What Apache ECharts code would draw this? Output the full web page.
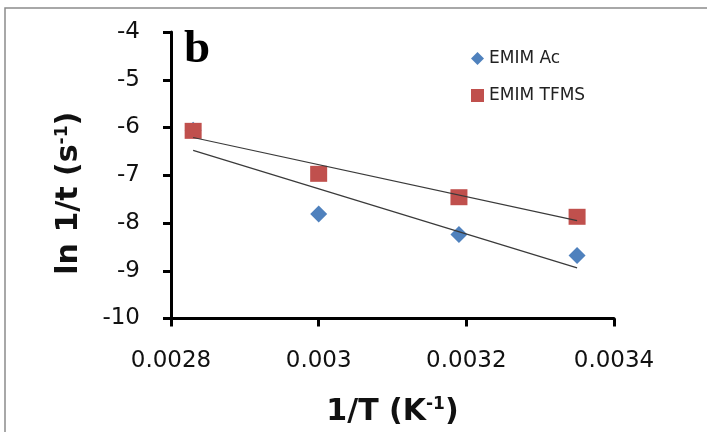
<!DOCTYPE html>
<html><head><meta charset="utf-8">
<script src="https://cdn.jsdelivr.net/npm/echarts@6/dist/echarts.min.js"></script>
<style>html,body{margin:0;padding:0;background:#fff}#c{width:707px;height:432px}</style>
</head><body><div id="c"></div>
<script>
const xTicks = ['0.0028', '0.003', '0.0032', '0.0034'];
const yTicks = ['-4', '-5', '-6', '-7', '-8', '-9', '-10'];
const acX = [0.00283, 0.0030, 0.00319, 0.00335];
const acY = [-6.06, -7.81, -8.24, -8.68];
const tfX = [0.00283, 0.0030, 0.00319, 0.00335];
const tfY = [-6.07, -6.97, -7.46, -7.87];
const acTrendX = [0.00283, 0.00335];
const acTrendY = [-6.48, -8.94];
const tfTrendX = [0.00283, 0.00335];
const tfTrendY = [-6.21, -7.95];
const seriesNames = ['EMIM Ac', 'EMIM TFMS'];

const zip = (a, b) => a.map((v, i) => [v, b[i]]);
const chart = echarts.init(document.getElementById('c'), null, {renderer: 'canvas'});
const font = '"DejaVu Sans", sans-serif';
const titleRich = {
  a: {fontFamily: font, fontWeight: 'bold', fontSize: 30, color: '#111'},
  s: {fontFamily: font, fontWeight: 'bold', fontSize: 17, color: '#111', verticalAlign: 'top', padding: [0, 0, 14, 0]}
};
chart.setOption({
  animation: false,
  backgroundColor: '#fff',
  graphic: [
    {type: 'rect', shape: {x: 5, y: 8, width: 720, height: 440}, style: {fill: 'none', stroke: '#8c8c8c', lineWidth: 1.5}, silent: true},
    {type: 'text', left: 184, top: 26, style: {text: 'b', font: 'bold 47px "Liberation Serif", serif', fill: '#000'}}
  ],
  grid: {left: 171, top: 32, right: 93, bottom: 113},
  legend: {
    data: [{name: seriesNames[0], icon: 'diamond'}, {name: seriesNames[1], icon: 'rect'}],
    orient: 'vertical', left: 466, top: 45, itemGap: 20, itemWidth: 13, itemHeight: 13,
    textStyle: {fontFamily: font, fontSize: 17, color: '#222'}
  },
  xAxis: {
    type: 'value', min: 0.0028, max: 0.0034, interval: 0.0002,
    splitLine: {show: false},
    axisLine: {onZero: false, lineStyle: {color: '#000', width: 3}},
    axisTick: {show: true, length: 8, lineStyle: {color: '#000', width: 3}},
    axisLabel: {margin: 31, fontFamily: font, fontSize: 23, color: '#111',
      formatter: v => xTicks[Math.round((v - 0.0028) / 0.0002)] || ''},
    name: '{a|1/T (K}{s|-1}{a|)}', nameLocation: 'middle', nameGap: 78,
    nameTextStyle: {rich: titleRich}
  },
  yAxis: {
    type: 'value', min: -10, max: -4, interval: 1,
    splitLine: {show: false},
    axisLine: {onZero: false, lineStyle: {color: '#000', width: 3}},
    axisTick: {show: true, length: 8, lineStyle: {color: '#000', width: 3}},
    axisLabel: {margin: 31, fontFamily: font, fontSize: 23, color: '#111',
      formatter: v => yTicks[Math.round(-4 - v)] || ''},
    name: '{a|ln 1/t (s}{s|-1}{a|)}', nameLocation: 'middle', nameGap: 86,
    nameTextStyle: {rich: titleRich, padding: [0, 36, 0, 0]}
  },
  series: [
    {name: seriesNames[0], type: 'scatter', symbol: 'diamond', symbolSize: 17, z: 3,
      itemStyle: {color: '#4F81BD', opacity: 1}, data: zip(acX, acY)},
    {name: seriesNames[1], type: 'scatter', symbol: 'rect', symbolSize: [17, 16], z: 4,
      itemStyle: {color: '#C0504D', opacity: 1}, data: zip(tfX, tfY)},
    {type: 'line', data: zip(acTrendX, acTrendY), symbol: 'none', z: 5, silent: true,
      lineStyle: {color: '#3a3a3a', width: 1.2}},
    {type: 'line', data: zip(tfTrendX, tfTrendY), symbol: 'none', z: 5, silent: true,
      lineStyle: {color: '#3a3a3a', width: 1.2}}
  ]
});
</script></body></html>
